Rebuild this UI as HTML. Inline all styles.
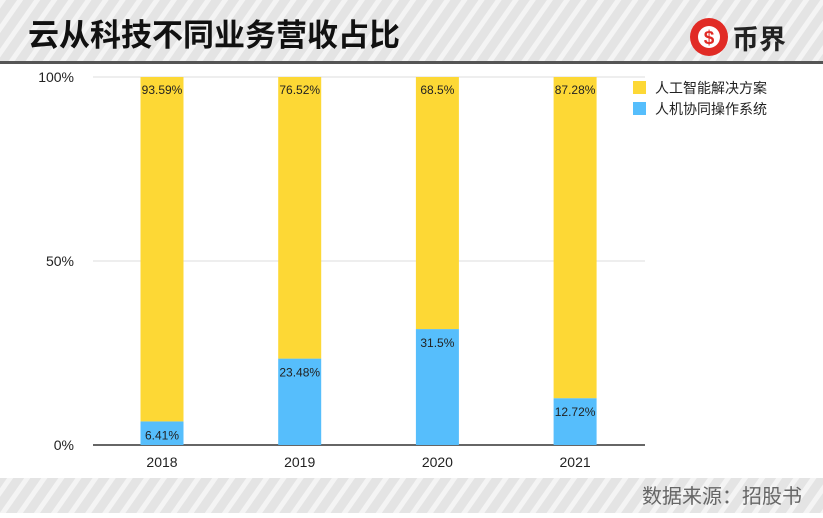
<!DOCTYPE html>
<html><head><meta charset="utf-8"><style>
body{margin:0;width:823px;height:513px;overflow:hidden;background:#fff;font-family:"Liberation Sans","Noto Sans CJK SC",sans-serif}
</style></head><body>
<svg width="823" height="513" viewBox="0 0 823 513">
<defs>
<pattern id="stripe" width="14" height="14" patternUnits="userSpaceOnUse" patternTransform="rotate(35)">
<rect width="14" height="14" fill="#e4e4e4"/><rect width="5" height="14" fill="#f4f4f4"/>
</pattern>
</defs>
<rect x="0" y="0" width="823" height="62" fill="url(#stripe)"/>
<rect x="0" y="61" width="823" height="3" fill="#555"/>
<text x="28" y="46" font-size="31" font-weight="bold" fill="#111" font-family="Noto Sans CJK SC, sans-serif">云从科技不同业务营收占比</text>
<g>
<circle cx="709" cy="37" r="19" fill="#e12b25"/>
<circle cx="709" cy="37" r="11" fill="#fff"/>
<text x="709" y="44" font-size="19" font-weight="bold" fill="#e12b25" text-anchor="middle">$</text>
<text x="732" y="49" font-size="27" font-weight="bold" fill="#222" font-family="Noto Sans CJK SC, sans-serif">币界</text>
</g>
<rect x="0" y="478" width="823" height="35" fill="url(#stripe)"/>
<text x="802" y="503" font-size="20" fill="#666" text-anchor="end" font-family="Noto Sans CJK SC, sans-serif">数据来源：招股书</text>
<g id="plot"></g>
<g>
<rect x="633" y="81" width="13" height="13" fill="#fdd835"/>
<text x="655" y="93" font-size="14" fill="#222" font-family="Noto Sans CJK SC, sans-serif">人工智能解决方案</text>
<rect x="633" y="102" width="13" height="13" fill="#56befc"/>
<text x="655" y="114" font-size="14" fill="#222" font-family="Noto Sans CJK SC, sans-serif">人机协同操作系统</text>
</g>
</svg>
<script>
const categories=["2018","2019","2020","2021"];
const osValues=[6.41,23.48,31.5,12.72];
const aiValues=[93.59,76.52,68.5,87.28];
const yTicks=[0,50,100];
const ns="http://www.w3.org/2000/svg";
const g=document.getElementById("plot");
const y0=445,y1=77,xL=93,xR=645;
const y=v=>y0-(v/100)*(y0-y1);
const xc=i=>162+i*137.7;
function mk(t,a){const e=document.createElementNS(ns,t);for(const k in a)e.setAttribute(k,a[k]);g.appendChild(e);return e;}
yTicks.forEach(t=>{
 const l=mk("line",{x1:xL,x2:xR,y1:y(t),y2:y(t),stroke:t===0?"#333":"#ddd","stroke-width":t===0?1.5:1});
 
 
 const tx=mk("text",{x:74,y:y(t)+5,"font-size":14,fill:"#222","text-anchor":"end"});tx.textContent=t+"%";
 
 
});
categories.forEach((c,i)=>{
 const w=43,x=xc(i)-w/2;
 const b1=mk("rect",{x:x,y:y(osValues[i]),width:w,height:y0-y(osValues[i]),fill:"#56befc"});
 
 
 const b2=mk("rect",{x:x,y:y(osValues[i]+aiValues[i]),width:w,height:y(osValues[i])-y(osValues[i]+aiValues[i]),fill:"#fdd835"});
 
 
 const t1=mk("text",{x:xc(i),y:y(osValues[i])+18,"font-size":12,fill:"#222","text-anchor":"middle"});t1.textContent=osValues[i]+"%";
 
 
 const t2=mk("text",{x:xc(i),y:y(osValues[i]+aiValues[i])+17,"font-size":12,fill:"#222","text-anchor":"middle"});t2.textContent=aiValues[i]+"%";
 
 
 const xt=mk("text",{x:xc(i),y:467,"font-size":14,fill:"#222","text-anchor":"middle"});xt.textContent=c;
 
 
});
</script>
</body></html>
